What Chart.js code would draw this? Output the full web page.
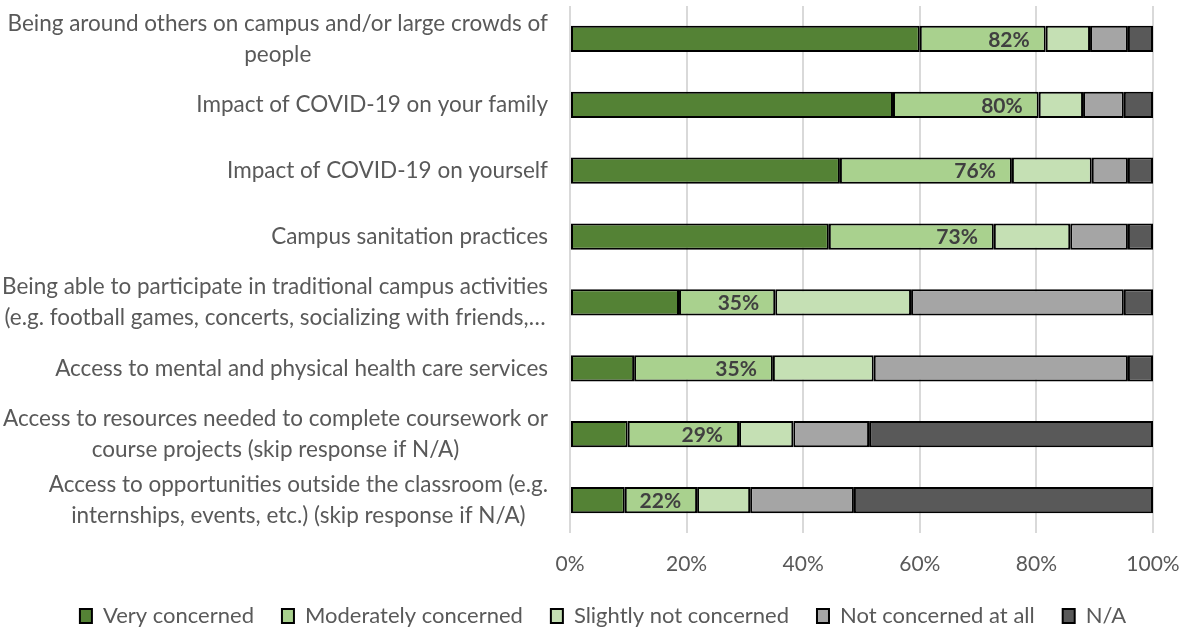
<!DOCTYPE html>
<html>
<head>
<meta charset="utf-8">
<script src="https://cdn.jsdelivr.net/npm/chart.js@4/dist/chart.umd.min.js"></script>
<style>
  html, body { margin: 0; padding: 0; background: #fff; }
  #wrap { width: 1188px; height: 631px; position: relative; }
</style>
</head>
<body>
<div id="wrap"><canvas id="chart"></canvas></div>
<script>
// Categories (each label split into the lines shown in the picture)
const categories = [
    ['Being around others on campus and/or large crowds of', 'people'],
    ['Impact of COVID-19 on your family'],
    ['Impact of COVID-19 on yourself'],
    ['Campus sanitation practices'],
    ['Being able to participate in traditional campus activities', '(e.g. football games, concerts, socializing with friends,\u2026'],
    ['Access to mental and physical health care services'],
    ['Access to resources needed to complete coursework or', 'course projects (skip response if N/A)'],
    ['Access to opportunities outside the classroom (e.g.', 'internships, events, etc.) (skip response if N/A)']
];

// Series values (percent of respondents)
const veryConcerned = [60.0, 55.4, 46.3, 44.4, 18.7, 11.0, 9.9, 9.4];
const moderatelyConcerned = [21.6, 25.0, 29.5, 28.3, 16.5, 23.8, 19.1, 12.4];
const slightlyNotConcerned = [7.6, 7.6, 13.7, 13.1, 23.3, 17.3, 9.3, 9.1];
const notConcerned = [6.5, 7.0, 6.2, 9.9, 36.5, 43.6, 13.0, 17.8];
const notApplicable = [4.3, 5.0, 4.3, 4.3, 5.0, 4.3, 48.7, 51.3];

const xTicks = [0, 20, 40, 60, 80, 100];

const FONT = 'Lato, "Open Sans", sans-serif';
const TEXT = '#595959';

// Keep the legend strip short while leaving wide gaps between its items
const legendHeight = {
    id: 'legendHeight',
    afterInit(chart) {
        const legend = chart.legend;
        const fit = legend.fit;
        legend.fit = function () {
            fit.call(this);
            this.height = 52;
        };
    }
};

// Draw the category labels: block right-aligned, lines centred inside it
const categoryLabels = {
    id: 'categoryLabels',
    afterDraw(chart) {
        const ctx = chart.ctx;
        const yScale = chart.scales.y;
        const right = chart.chartArea.left - 22;
        const lineH = 31;
        ctx.save();
        ctx.font = '22.5px ' + FONT;
        ctx.fillStyle = TEXT;
        ctx.textAlign = 'center';
        ctx.textBaseline = 'middle';
        categories.forEach((lines, i) => {
            const yc = yScale.getPixelForValue(i);
            const w = Math.max(...lines.map(l => ctx.measureText(l).width));
            const xc = right - w / 2;
            const top = yc - (lines.length - 1) * lineH / 2;
            lines.forEach((l, j) => ctx.fillText(l, xc, top + j * lineH));
        });
        ctx.restore();
    }
};

// Cumulative "concerned" share written at the inside end of the moderate bar
const concernLabels = {
    id: 'concernLabels',
    afterDatasetsDraw(chart) {
        const ctx = chart.ctx;
        const meta = chart.getDatasetMeta(1);
        ctx.save();
        ctx.font = 'bold 21px ' + FONT;
        ctx.fillStyle = '#404040';
        ctx.textAlign = 'right';
        ctx.textBaseline = 'middle';
        meta.data.forEach((bar, i) => {
            const total = Math.round(veryConcerned[i] + moderatelyConcerned[i]);
            ctx.fillText(total + '%', bar.x - 16, bar.y + 1);
        });
        ctx.restore();
    }
};

const makeSet = (label, data, color) => ({
    label: label,
    data: data,
    backgroundColor: color,
    borderColor: '#000000',
    borderWidth: 2,
    borderSkipped: false,
    barPercentage: 0.4,
    categoryPercentage: 1.0
});

new Chart(document.getElementById('chart'), {
    type: 'bar',
    data: {
        labels: categories.map(c => c.join(' ')),
        datasets: [
            makeSet('Very concerned', veryConcerned, '#548235'),
            makeSet('Moderately concerned', moderatelyConcerned, '#A9D18E'),
            makeSet('Slightly not concerned', slightlyNotConcerned, '#C5E0B4'),
            makeSet('Not concerned at all', notConcerned, '#A5A5A5'),
            makeSet('N/A', notApplicable, '#595959')
        ]
    },
    options: {
        indexAxis: 'y',
        responsive: true,
        maintainAspectRatio: false,
        animation: false,
        layout: { padding: { left: 18, right: 0, top: 6, bottom: 2 } },
        plugins: {
            legend: {
                position: 'bottom',
                labels: {
                    font: { family: FONT, size: 22 },
                    color: TEXT,
                    boxWidth: 12,
                    boxHeight: 14,
                    padding: 28,
                    useBorderRadius: false
                }
            },
            tooltip: { enabled: false }
        },
        scales: {
            x: {
                stacked: true,
                min: 0,
                max: 100,
                afterBuildTicks: axis => { axis.ticks = xTicks.map(v => ({ value: v })); },
                afterFit: axis => { axis.paddingRight = 35; axis.height = 44; },
                ticks: {
                    callback: v => v + '%',
                    font: { family: FONT, size: 21 },
                    color: TEXT,
                    padding: 19
                },
                grid: { color: '#D9D9D9', lineWidth: 2, drawTicks: false },
                border: { display: false }
            },
            y: {
                stacked: true,
                afterFit: axis => { axis.width = 552; },
                ticks: { display: false },
                grid: { display: false },
                border: { display: false }
            }
        }
    },
    plugins: [legendHeight, categoryLabels, concernLabels]
});
</script>
</body>
</html>
